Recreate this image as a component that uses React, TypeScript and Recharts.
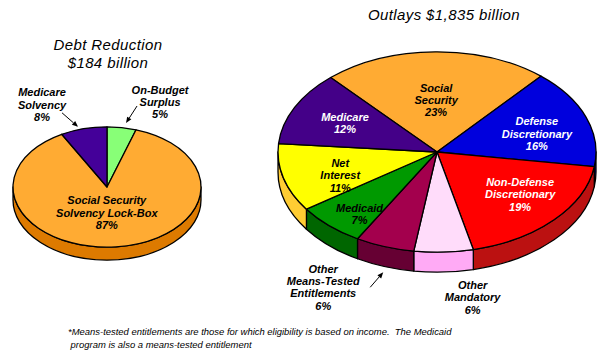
import React from 'react';
import { PieChart, Pie, Cell } from 'recharts';

// Debt reduction pie (left)
const debtNames = ['On-Budget Surplus', 'Social Security Solvency Lock-Box', 'Medicare Solvency'];
const debtShares = [5, 87, 8];
const debtLines = [['On-Budget', 'Surplus'], ['Social Security', 'Solvency Lock-Box'], ['Medicare', 'Solvency']];

// Outlays pie (right)
const outlayNames = [
  'Social Security',
  'Defense Discretionary',
  'Non-Defense Discretionary',
  'Other Mandatory',
  'Other Means-Tested Entitlements',
  'Medicaid',
  'Net Interest',
  'Medicare',
];
const outlayShares = [23, 16, 19, 6, 6, 7, 11, 12];
const outlayLines = [
  ['Social', 'Security'],
  ['Defense', 'Discretionary'],
  ['Non-Defense', 'Discretionary'],
  ['Other', 'Mandatory'],
  ['Other', 'Means-Tested', 'Entitlements'],
  ['Medicaid'],
  ['Net', 'Interest'],
  ['Medicare'],
];

const debtData = debtNames.map((name, i) => ({ name, value: debtShares[i], lines: debtLines[i] }));
const outlayData = outlayNames.map((name, i) => ({ name, value: outlayShares[i], lines: outlayLines[i] }));

// [top colour, side colour]
const FILL: Record<string, [string, string]> = {
  'On-Budget Surplus': ['#88ff77', '#55cc44'],
  'Social Security Solvency Lock-Box': ['#ffab33', '#dd7a00'],
  'Medicare Solvency': ['#440099', '#2a0066'],
  'Social Security': ['#ffab33', '#dd7a00'],
  'Defense Discretionary': ['#0000dd', '#000099'],
  'Non-Defense Discretionary': ['#ff0000', '#bb1111'],
  'Other Mandatory': ['#ffdcfa', '#ffaaf5'],
  'Other Means-Tested Entitlements': ['#a3004d', '#660033'],
  'Medicaid': ['#009900', '#006600'],
  'Net Interest': ['#ffff00', '#ffcc33'],
  'Medicare': ['#440088', '#2a0066'],
};

type Layout = { rf: number; dx?: number; dy?: number; color?: string; arrow?: number[] };
const LABELS: Record<string, Layout> = {
  'On-Budget Surplus': { rf: 1.43, dx: 32, arrow: [-23, 4, -34, 21] },
  'Social Security Solvency Lock-Box': { rf: 0.43, dx: -4 },
  'Medicare Solvency': { rf: 1.41, dx: -32, arrow: [20, 8, 36, 22] },
  'Social Security': { rf: 0.52 },
  'Defense Discretionary': { rf: 0.67, dy: 5, color: '#fff' },
  'Non-Defense Discretionary': { rf: 0.71, dy: -6, color: '#fff' },
  'Other Mandatory': { rf: 1.45, dx: 26 },
  'Other Means-Tested Entitlements': { rf: 1.43, dx: -39, arrow: [47, 0, 60, -15] },
  'Medicaid': { rf: 0.72, dy: 9 },
  'Net Interest': { rf: 0.63, dy: 7 },
  'Medicare': { rf: 0.646, color: '#fff' },
};

const RAD = Math.PI / 180;
const FONT = '"Liberation Sans", Arial, sans-serif';

const pt = (cx: number, cy: number, rx: number, ry: number, a: number) => [
  cx + rx * Math.cos(a * RAD),
  cy - ry * Math.sin(a * RAD),
];

const keyOf = (p: any) => p.name ?? p.payload?.name;

// tilted slice: elliptical top plus the visible side wall
const makeSlice = (k: number, depth: number) => (props: any) => {
  const { cx, cy, outerRadius: rx, startAngle, endAngle } = props;
  const [top, side] = FILL[keyOf(props)] || ['#ccc', '#999'];
  const ry = rx * k;
  const [sx, sy] = pt(cx, cy, rx, ry, startAngle);
  const [ex, ey] = pt(cx, cy, rx, ry, endAngle);
  const large = Math.abs(endAngle - startAngle) > 180 ? 1 : 0;
  const sweep = endAngle < startAngle ? 1 : 0;
  const topPath = `M${cx},${cy}L${sx},${sy}A${rx},${ry} 0 ${large} ${sweep} ${ex},${ey}Z`;
  const lo = Math.min(startAngle, endAngle);
  const hi = Math.max(startAngle, endAngle);
  const sides: string[] = [];
  for (const [a, b] of [[-540, -360], [-180, 0], [180, 360]]) {
    const s = Math.max(lo, a);
    const e = Math.min(hi, b);
    if (e - s > 0.01) {
      const [x1, y1] = pt(cx, cy, rx, ry, s);
      const [x2, y2] = pt(cx, cy, rx, ry, e);
      const lg = e - s > 180 ? 1 : 0;
      sides.push(
        `M${x1},${y1}A${rx},${ry} 0 ${lg} 0 ${x2},${y2}L${x2},${y2 + depth}A${rx},${ry} 0 ${lg} 1 ${x1},${y1 + depth}Z`
      );
    }
  }
  return (
    <g>
      {sides.map((d, i) => (
        <path key={i} d={d} fill={side} stroke="#000" strokeWidth={1.3} strokeLinejoin="round" />
      ))}
      <path d={topPath} fill={top} stroke="#000" strokeWidth={1.3} strokeLinejoin="round" />
    </g>
  );
};

const makeLabel = (k: number) => (props: any) => {
  const { cx, cy, outerRadius: rx, midAngle } = props;
  const name = keyOf(props);
  const lay = LABELS[name];
  const entry = props.payload?.payload ?? props.payload ?? props;
  const lines: string[] = [...(entry.lines || props.lines || [name]), `${props.value ?? entry.value}%`];
  const x = cx + rx * lay.rf * Math.cos(midAngle * RAD) + (lay.dx || 0);
  const y = cy - rx * k * lay.rf * Math.sin(midAngle * RAD) + (lay.dy || 0);
  const lh = 12.4;
  const y0 = y - ((lines.length - 1) * lh) / 2;
  let arrow = null;
  if (lay.arrow) {
    const [x1, y1, x2, y2] = lay.arrow.map((v, i) => v + (i % 2 ? y : x));
    const len = Math.hypot(x2 - x1, y2 - y1);
    const ux = (x2 - x1) / len;
    const uy = (y2 - y1) / len;
    const hx = x2 - ux * 6;
    const hy = y2 - uy * 6;
    arrow = (
      <g>
        <line x1={x1} y1={y1} x2={hx} y2={hy} stroke="#000" strokeWidth={1} />
        <polygon points={`${x2},${y2} ${hx - uy * 2.5},${hy + ux * 2.5} ${hx + uy * 2.5},${hy - ux * 2.5}`} fill="#000" />
      </g>
    );
  }
  return (
    <g>
      {arrow}
      {lines.map((t, i) => (
        <text
          key={i}
          x={x}
          y={y0 + i * lh}
          textAnchor="middle"
          dominantBaseline="central"
          fill={lay.color || '#000'}
          fontFamily={FONT}
          fontStyle="italic"
          fontWeight="bold"
          fontSize={11}
        >
          {t}
        </text>
      ))}
    </g>
  );
};

const DEBT_K = 0.64;
const OUT_K = 0.63;

const titleStyle: React.CSSProperties = {
  position: 'absolute',
  width: 200,
  textAlign: 'center',
  fontStyle: 'italic',
  fontSize: 15,
  letterSpacing: 0.4,
  lineHeight: '18px',
};

export default function App() {
  return (
    <div style={{ position: 'absolute', left: 0, top: 0, width: 603, height: 359, background: '#fff', fontFamily: FONT }}>
      <div style={{ ...titleStyle, left: 8, top: 36 }}>
        Debt Reduction
        <br />
        $184 billion
      </div>
      <div style={{ ...titleStyle, left: 344, top: 6 }}>Outlays $1,835 billion</div>
      <PieChart width={603} height={359} margin={{ top: 0, right: 0, bottom: 0, left: 0 }}>
        <Pie
          data={debtData}
          dataKey="value"
          nameKey="name"
          cx={107}
          cy={187}
          outerRadius={94}
          startAngle={90}
          endAngle={-270}
          isAnimationActive={false}
          shape={makeSlice(DEBT_K, 13)}
          label={makeLabel(DEBT_K)}
          labelLine={false}
        >
          {debtData.map((d) => (
            <Cell key={d.name} fill={FILL[d.name][0]} />
          ))}
        </Pie>
        <Pie
          data={outlayData}
          dataKey="value"
          nameKey="name"
          cx={437}
          cy={152}
          outerRadius={159}
          startAngle={132}
          endAngle={-228}
          isAnimationActive={false}
          shape={makeSlice(OUT_K, 20)}
          label={makeLabel(OUT_K)}
          labelLine={false}
        >
          {outlayData.map((d) => (
            <Cell key={d.name} fill={FILL[d.name][0]} />
          ))}
        </Pie>
      </PieChart>
      <div style={{ position: 'absolute', left: 68, top: 325, fontStyle: 'italic', fontSize: 9.45, lineHeight: '13px', whiteSpace: 'pre' }}>
        {'*Means-tested entitlements are those for which eligibility is based on income.  The Medicaid\n program is also a means-tested entitlement'}
      </div>
    </div>
  );
}
